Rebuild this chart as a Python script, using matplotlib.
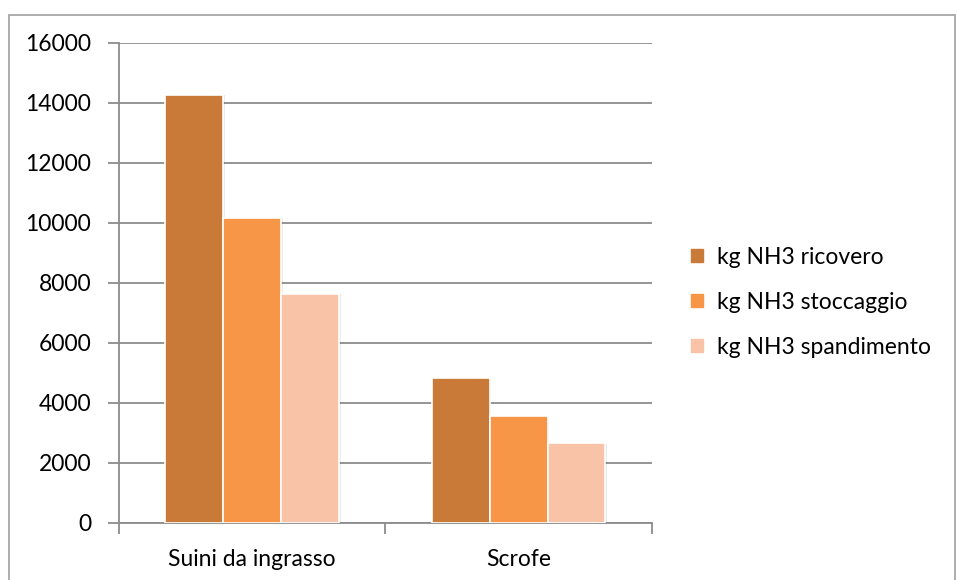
import numpy as np
import matplotlib
matplotlib.use("Agg")
import matplotlib.pyplot as plt
from matplotlib.patches import Rectangle

plt.rcParams['font.family'] = ['Lato', 'DejaVu Sans']

categories = ["Suini da ingrasso", "Scrofe"]
series = ["kg NH3 ricovero", "kg NH3 stoccaggio", "kg NH3 spandimento"]
ricovero = [14250, 4830]
stoccaggio = [10150, 3550]
spandimento = [7630, 2650]
colors = ["#C97A39", "#F79646", "#F9C3A8"]

fig = plt.figure(figsize=(9.57, 5.80), dpi=100)
ax = fig.add_axes([0.1243, 0.0983, 0.5570, 0.8276])

# outer chart frame
fig.patches.append(Rectangle((0.0094, -0.01), 0.988, 0.984, transform=fig.transFigure,
                             fill=False, edgecolor="#A0A0A0", linewidth=1.2))

x = np.arange(len(categories))
width = 0.217
for i, (vals, name) in enumerate(zip([ricovero, stoccaggio, spandimento], series)):
    pos = x + (i - 1) * width
    # soft drop shadow behind each bar
    ax.bar(pos + 0.006, vals, width, color="#000000", alpha=0.08, zorder=2,
           linewidth=0)
    ax.bar(pos, vals, width, color=colors[i], edgecolor="white", linewidth=1.2,
           label=name, zorder=3)

ax.set_xlim(-0.5, 1.5)
ax.set_ylim(0, 16000)
ax.set_yticks(np.arange(0, 16001, 2000))
ax.yaxis.grid(True, color="#8C8C8C", linewidth=1.3)
ax.set_axisbelow(True)

ax.set_xticks([-0.5, 0.5, 1.5])
ax.set_xticklabels([])
ax.set_xticks(x, minor=True)
ax.set_xticklabels(categories, minor=True, fontsize=16.5)
ax.tick_params(axis="x", which="minor", length=0, pad=19)
ax.tick_params(axis="x", which="major", length=8, width=1.3, color="#8C8C8C", direction="out")
ax.tick_params(axis="y", length=8, width=1.3, color="#8C8C8C", direction="out",
               labelsize=16.5, pad=12)

for side in ["top", "right"]:
    ax.spines[side].set_visible(False)
for side in ["left", "bottom"]:
    ax.spines[side].set_color("#8C8C8C")
    ax.spines[side].set_linewidth(1.3)

handles = [Rectangle((0, 0), 1, 1, color=c) for c in colors]
fig.legend(handles, series, loc="center left", bbox_to_anchor=(0.701, 0.479),
           frameon=False, fontsize=16.5, handlelength=0.5, handleheight=0.5,
           handletextpad=0.6, labelspacing=1.05)

fig.savefig("out.png", dpi=100)
